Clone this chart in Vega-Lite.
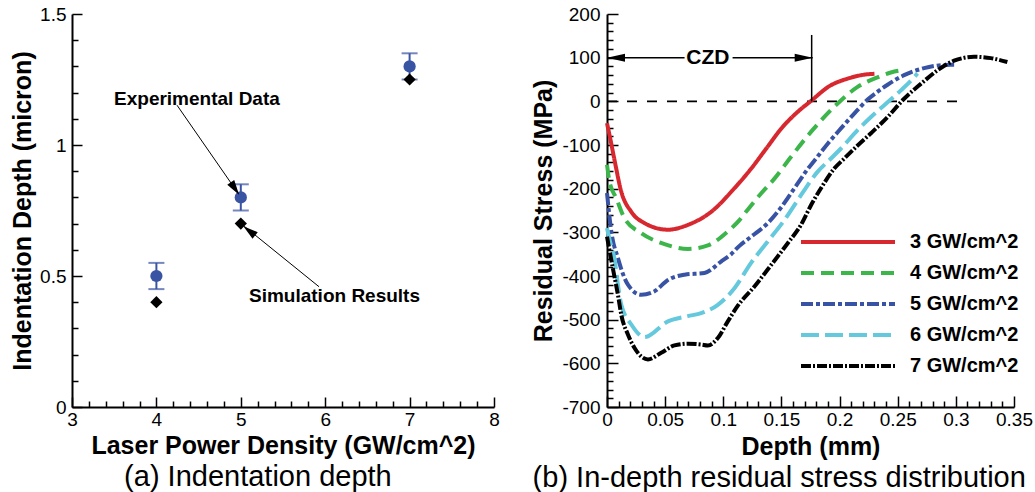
{
  "$schema": "https://vega.github.io/schema/vega-lite/v6.json",
  "background": "white",
  "padding": {"left": 10, "top": 5, "right": 5, "bottom": 0},
  "spacing": 31,
  "config": {
    "font": "Liberation Sans",
    "view": {"stroke": null},
    "axis": {
      "grid": false,
      "domainColor": "black",
      "domainWidth": 2,
      "tickColor": "black",
      "tickWidth": 1.5,
      "tickCount": 200,
      "labelColor": "black",
      "labelFont": "Liberation Sans",
      "labelFontSize": 19,
      "labelFlush": false,
      "labelOverlap": false,
      "labelBound": false,
      "titleColor": "black",
      "titleFont": "Liberation Sans",
      "titleFontSize": 25,
      "titleFontWeight": "bold"
    }
  },
  "hconcat": [
    {
      "width": 422,
      "height": 393,
      "title": {"text": "(a) Indentation depth", "orient": "bottom", "anchor": "middle", "frame": "bounds", "fontSize": 29, "fontWeight": "normal", "font": "Liberation Sans", "color": "black", "offset": 5, "dx": 3},
      "layer": [
        {
          "data": {"values": [
            {"x": 4, "lo": 0.45, "hi": 0.55},
            {"x": 5, "lo": 0.75, "hi": 0.85},
            {"x": 7, "lo": 1.25, "hi": 1.35}
          ]},
          "mark": {"type": "rule", "color": "#3a54a4", "strokeWidth": 2},
          "encoding": {
            "x": {"field": "x", "type": "quantitative", "title": "Laser Power Density (GW/cm^2)",
              "scale": {"domain": [3, 8], "nice": false, "zero": false},
              "axis": {
                "values": [3,3.2,3.4,3.6,3.8,4,4.2,4.4,4.6,4.8,5,5.2,5.4,5.6,5.8,6,6.2,6.4,6.6,6.8,7,7.2,7.4,7.6,7.8,8],
                "tickCount": 200,
                "labelExpr": "abs(datum.value - round(datum.value)) < 0.001 ? '' + datum.value : ''",
                "tickSize": {"condition": {"test": "abs(datum.value - round(datum.value)) < 0.001", "value": -10}, "value": -6},
                "labelOverlap": false,
                "labelPadding": 13,
                "titlePadding": 0
              }},
            "y": {"field": "lo", "type": "quantitative", "title": "Indentation Depth (micron)",
              "scale": {"domain": [0, 1.5], "nice": false, "zero": false},
              "axis": {
                "values": [0,0.1,0.2,0.3,0.4,0.5,0.6,0.7,0.8,0.9,1,1.1,1.2,1.3,1.4,1.5],
                "tickCount": 200,
                "labelExpr": "abs(datum.value*2 - round(datum.value*2)) < 0.001 ? '' + datum.value : ''",
                "tickSize": {"condition": {"test": "abs(datum.value*2 - round(datum.value*2)) < 0.001", "value": -10}, "value": -6},
                "labelOverlap": false,
                "labelPadding": 16,
                "titlePadding": 4
              }},
            "y2": {"field": "hi"}
          }
        },
        {
          "data": {"values": [
            {"x": 4, "lo": 0.45, "hi": 0.55},
            {"x": 5, "lo": 0.75, "hi": 0.85},
            {"x": 7, "lo": 1.25, "hi": 1.35}
          ]},
          "mark": {"type": "tick", "orient": "horizontal", "color": "#3a54a4", "size": 16, "thickness": 2},
          "encoding": {
            "x": {"field": "x", "type": "quantitative", "title": "Laser Power Density (GW/cm^2)"},
            "y": {"field": "lo", "type": "quantitative", "title": "Indentation Depth (micron)"}
          }
        },
        {
          "data": {"values": [
            {"x": 4, "lo": 0.45, "hi": 0.55},
            {"x": 5, "lo": 0.75, "hi": 0.85},
            {"x": 7, "lo": 1.25, "hi": 1.35}
          ]},
          "mark": {"type": "tick", "orient": "horizontal", "color": "#3a54a4", "size": 16, "thickness": 2},
          "encoding": {
            "x": {"field": "x", "type": "quantitative", "title": "Laser Power Density (GW/cm^2)"},
            "y": {"field": "hi", "type": "quantitative", "title": "Indentation Depth (micron)"}
          }
        },
        {
          "data": {"values": [
            {"x": 4, "y": 0.5},
            {"x": 5, "y": 0.8},
            {"x": 7, "y": 1.3}
          ]},
          "mark": {"type": "point", "shape": "circle", "filled": true, "color": "#3a54a4", "opacity": 1, "size": 150},
          "encoding": {
            "x": {"field": "x", "type": "quantitative", "title": "Laser Power Density (GW/cm^2)"},
            "y": {"field": "y", "type": "quantitative", "title": "Indentation Depth (micron)"}
          }
        },
        {
          "data": {"values": [
            {"x": 4, "y": 0.4},
            {"x": 5, "y": 0.7},
            {"x": 7, "y": 1.25}
          ]},
          "mark": {"type": "point", "shape": "diamond", "filled": true, "color": "black", "opacity": 1, "size": 150},
          "encoding": {
            "x": {"field": "x", "type": "quantitative", "title": "Laser Power Density (GW/cm^2)"},
            "y": {"field": "y", "type": "quantitative", "title": "Indentation Depth (micron)"}
          }
        },
        {
          "data": {"values": [
            {"x": 4.244, "y": 1.152, "x2": 4.97, "y2": 0.815},
            {"x": 5.927, "y": 0.459, "x2": 5.04, "y2": 0.69}
          ]},
          "mark": {"type": "rule", "color": "black", "strokeWidth": 1},
          "encoding": {
            "x": {"field": "x", "type": "quantitative", "title": "Laser Power Density (GW/cm^2)"},
            "y": {"field": "y", "type": "quantitative", "title": "Indentation Depth (micron)"},
            "x2": {"field": "x2"},
            "y2": {"field": "y2"}
          }
        },
        {
          "data": {"values": [{"x": 4.98, "y": 0.81}]},
          "mark": {"type": "point", "shape": "M0,0L-1,-0.28L-1,0.28Z", "filled": true, "color": "black", "opacity": 1, "size": 900, "angle": 56},
          "encoding": {
            "x": {"field": "x", "type": "quantitative", "title": "Laser Power Density (GW/cm^2)"},
            "y": {"field": "y", "type": "quantitative", "title": "Indentation Depth (micron)"}
          }
        },
        {
          "data": {"values": [{"x": 5.03, "y": 0.69}]},
          "mark": {"type": "point", "shape": "M0,0L-1,-0.28L-1,0.28Z", "filled": true, "color": "black", "opacity": 1, "size": 900, "angle": 218},
          "encoding": {
            "x": {"field": "x", "type": "quantitative", "title": "Laser Power Density (GW/cm^2)"},
            "y": {"field": "y", "type": "quantitative", "title": "Indentation Depth (micron)"}
          }
        },
        {
          "data": {"values": [
            {"x": 3.498, "y": 1.175, "label": "Experimental Data"},
            {"x": 5.097, "y": 0.425, "label": "Simulation Results"}
          ]},
          "mark": {"type": "text", "align": "left", "baseline": "middle", "font": "Liberation Sans", "fontSize": 19, "fontWeight": "bold", "color": "black"},
          "encoding": {
            "x": {"field": "x", "type": "quantitative", "title": "Laser Power Density (GW/cm^2)"},
            "y": {"field": "y", "type": "quantitative", "title": "Indentation Depth (micron)"},
            "text": {"field": "label"}
          }
        }
      ]
    },
    {
      "width": 407,
      "height": 393,
      "title": {"text": "(b) In-depth residual stress distribution", "orient": "bottom", "anchor": "middle", "frame": "bounds", "fontSize": 29, "fontWeight": "normal", "font": "Liberation Sans", "color": "black", "offset": 5, "dx": -3},
      "layer": [
        {
          "data": {"values": [{"d": 0, "d2": 0.302, "s": 0}]},
          "mark": {"type": "rule", "color": "black", "strokeWidth": 1.7, "strokeDash": [10, 10]},
          "encoding": {
            "x": {"field": "d", "type": "quantitative", "title": "Depth (mm)",
              "scale": {"domain": [0, 0.35], "nice": false, "zero": false},
              "axis": {
                "values": [0,0.01,0.02,0.03,0.04,0.05,0.06,0.07,0.08,0.09,0.1,0.11,0.12,0.13,0.14,0.15,0.16,0.17,0.18,0.19,0.2,0.21,0.22,0.23,0.24,0.25,0.26,0.27,0.28,0.29,0.3,0.31,0.32,0.33,0.34,0.35],
                "tickCount": 200,
                "labelExpr": "abs(datum.value*20 - round(datum.value*20)) < 0.001 ? '' + datum.value : ''",
                "tickSize": {"condition": {"test": "abs(datum.value*20 - round(datum.value*20)) < 0.001", "value": -11}, "value": -6},
                "labelOverlap": false,
                "labelPadding": 14,
                "titlePadding": 0
              }},
            "y": {"field": "s", "type": "quantitative", "title": "Residual Stress (MPa)",
              "scale": {"domain": [-700, 200], "nice": false, "zero": false},
              "axis": {
                "values": [-700,-680,-660,-640,-620,-600,-580,-560,-540,-520,-500,-480,-460,-440,-420,-400,-380,-360,-340,-320,-300,-280,-260,-240,-220,-200,-180,-160,-140,-120,-100,-80,-60,-40,-20,0,20,40,60,80,100,120,140,160,180,200],
                "tickCount": 200,
                "labelExpr": "datum.value % 100 == 0 ? '' + datum.value : ''",
                "tickSize": {"condition": {"test": "datum.value % 100 == 0", "value": -11}, "value": -6},
                "labelOverlap": false,
                "labelPadding": 18,
                "titlePadding": 5
              }},
            "x2": {"field": "d2"}
          }
        },
        {
          "data": {"values": [
            {"series": "3 GW/cm^2", "d": 0, "s": -50},
            {"series": "3 GW/cm^2", "d": 0.003, "s": -88},
            {"series": "3 GW/cm^2", "d": 0.0065, "s": -135},
            {"series": "3 GW/cm^2", "d": 0.0123, "s": -207},
            {"series": "3 GW/cm^2", "d": 0.0209, "s": -253},
            {"series": "3 GW/cm^2", "d": 0.0323, "s": -279},
            {"series": "3 GW/cm^2", "d": 0.0524, "s": -294},
            {"series": "3 GW/cm^2", "d": 0.0695, "s": -283},
            {"series": "3 GW/cm^2", "d": 0.0896, "s": -253},
            {"series": "3 GW/cm^2", "d": 0.1096, "s": -199},
            {"series": "3 GW/cm^2", "d": 0.124, "s": -154},
            {"series": "3 GW/cm^2", "d": 0.137, "s": -108},
            {"series": "3 GW/cm^2", "d": 0.15, "s": -62},
            {"series": "3 GW/cm^2", "d": 0.164, "s": -24},
            {"series": "3 GW/cm^2", "d": 0.175, "s": 0},
            {"series": "3 GW/cm^2", "d": 0.192, "s": 36},
            {"series": "3 GW/cm^2", "d": 0.207, "s": 52},
            {"series": "3 GW/cm^2", "d": 0.221, "s": 61},
            {"series": "3 GW/cm^2", "d": 0.23, "s": 63},

            {"series": "4 GW/cm^2", "d": 0, "s": -145},
            {"series": "4 GW/cm^2", "d": 0.0022, "s": -184},
            {"series": "4 GW/cm^2", "d": 0.008, "s": -222},
            {"series": "4 GW/cm^2", "d": 0.0151, "s": -268},
            {"series": "4 GW/cm^2", "d": 0.0295, "s": -302},
            {"series": "4 GW/cm^2", "d": 0.0495, "s": -327},
            {"series": "4 GW/cm^2", "d": 0.0695, "s": -338},
            {"series": "4 GW/cm^2", "d": 0.0867, "s": -330},
            {"series": "4 GW/cm^2", "d": 0.1039, "s": -298},
            {"series": "4 GW/cm^2", "d": 0.1139, "s": -272},
            {"series": "4 GW/cm^2", "d": 0.121, "s": -248},
            {"series": "4 GW/cm^2", "d": 0.1325, "s": -211},
            {"series": "4 GW/cm^2", "d": 0.144, "s": -177},
            {"series": "4 GW/cm^2", "d": 0.158, "s": -128},
            {"series": "4 GW/cm^2", "d": 0.1754, "s": -70},
            {"series": "4 GW/cm^2", "d": 0.1983, "s": -5},
            {"series": "4 GW/cm^2", "d": 0.2155, "s": 33},
            {"series": "4 GW/cm^2", "d": 0.2327, "s": 55},
            {"series": "4 GW/cm^2", "d": 0.2441, "s": 66},
            {"series": "4 GW/cm^2", "d": 0.255, "s": 72},

            {"series": "5 GW/cm^2", "d": 0, "s": -210},
            {"series": "5 GW/cm^2", "d": 0.0037, "s": -298},
            {"series": "5 GW/cm^2", "d": 0.0094, "s": -359},
            {"series": "5 GW/cm^2", "d": 0.018, "s": -420},
            {"series": "5 GW/cm^2", "d": 0.0295, "s": -443},
            {"series": "5 GW/cm^2", "d": 0.0409, "s": -435},
            {"series": "5 GW/cm^2", "d": 0.0524, "s": -409},
            {"series": "5 GW/cm^2", "d": 0.0667, "s": -397},
            {"series": "5 GW/cm^2", "d": 0.0838, "s": -393},
            {"series": "5 GW/cm^2", "d": 0.0981, "s": -367},
            {"series": "5 GW/cm^2", "d": 0.1067, "s": -350},
            {"series": "5 GW/cm^2", "d": 0.1139, "s": -331},
            {"series": "5 GW/cm^2", "d": 0.1239, "s": -310},
            {"series": "5 GW/cm^2", "d": 0.1382, "s": -279},
            {"series": "5 GW/cm^2", "d": 0.1497, "s": -243},
            {"series": "5 GW/cm^2", "d": 0.164, "s": -188},
            {"series": "5 GW/cm^2", "d": 0.1726, "s": -155},
            {"series": "5 GW/cm^2", "d": 0.1783, "s": -136},
            {"series": "5 GW/cm^2", "d": 0.1898, "s": -97},
            {"series": "5 GW/cm^2", "d": 0.2012, "s": -62},
            {"series": "5 GW/cm^2", "d": 0.2126, "s": -28},
            {"series": "5 GW/cm^2", "d": 0.2241, "s": 4},
            {"series": "5 GW/cm^2", "d": 0.2327, "s": 22},
            {"series": "5 GW/cm^2", "d": 0.2413, "s": 38},
            {"series": "5 GW/cm^2", "d": 0.2555, "s": 60},
            {"series": "5 GW/cm^2", "d": 0.2727, "s": 76},
            {"series": "5 GW/cm^2", "d": 0.2956, "s": 84},
            {"series": "5 GW/cm^2", "d": 0.2985, "s": 84},

            {"series": "6 GW/cm^2", "d": 0, "s": -290},
            {"series": "6 GW/cm^2", "d": 0.0022, "s": -317},
            {"series": "6 GW/cm^2", "d": 0.0065, "s": -362},
            {"series": "6 GW/cm^2", "d": 0.0094, "s": -420},
            {"series": "6 GW/cm^2", "d": 0.0123, "s": -466},
            {"series": "6 GW/cm^2", "d": 0.0209, "s": -511},
            {"series": "6 GW/cm^2", "d": 0.0323, "s": -540},
            {"series": "6 GW/cm^2", "d": 0.0524, "s": -504},
            {"series": "6 GW/cm^2", "d": 0.0695, "s": -492},
            {"series": "6 GW/cm^2", "d": 0.081, "s": -485},
            {"series": "6 GW/cm^2", "d": 0.0953, "s": -466},
            {"series": "6 GW/cm^2", "d": 0.1096, "s": -428},
            {"series": "6 GW/cm^2", "d": 0.1239, "s": -370},
            {"series": "6 GW/cm^2", "d": 0.1382, "s": -321},
            {"series": "6 GW/cm^2", "d": 0.1525, "s": -272},
            {"series": "6 GW/cm^2", "d": 0.1668, "s": -215},
            {"series": "6 GW/cm^2", "d": 0.1812, "s": -161},
            {"series": "6 GW/cm^2", "d": 0.1926, "s": -131},
            {"series": "6 GW/cm^2", "d": 0.2012, "s": -108},
            {"series": "6 GW/cm^2", "d": 0.2155, "s": -66},
            {"series": "6 GW/cm^2", "d": 0.227, "s": -36},
            {"series": "6 GW/cm^2", "d": 0.2384, "s": -9},
            {"series": "6 GW/cm^2", "d": 0.2527, "s": 25},
            {"series": "6 GW/cm^2", "d": 0.2641, "s": 55},
            {"series": "6 GW/cm^2", "d": 0.267, "s": 64},

            {"series": "7 GW/cm^2", "d": 0, "s": -310},
            {"series": "7 GW/cm^2", "d": 0.005, "s": -382},
            {"series": "7 GW/cm^2", "d": 0.0094, "s": -443},
            {"series": "7 GW/cm^2", "d": 0.0123, "s": -489},
            {"series": "7 GW/cm^2", "d": 0.018, "s": -534},
            {"series": "7 GW/cm^2", "d": 0.0237, "s": -565},
            {"series": "7 GW/cm^2", "d": 0.0352, "s": -591},
            {"series": "7 GW/cm^2", "d": 0.0466, "s": -576},
            {"series": "7 GW/cm^2", "d": 0.058, "s": -559},
            {"series": "7 GW/cm^2", "d": 0.0695, "s": -555},
            {"series": "7 GW/cm^2", "d": 0.081, "s": -557},
            {"series": "7 GW/cm^2", "d": 0.0867, "s": -559},
            {"series": "7 GW/cm^2", "d": 0.0953, "s": -542},
            {"series": "7 GW/cm^2", "d": 0.1039, "s": -504},
            {"series": "7 GW/cm^2", "d": 0.1125, "s": -468},
            {"series": "7 GW/cm^2", "d": 0.1268, "s": -424},
            {"series": "7 GW/cm^2", "d": 0.1411, "s": -375},
            {"series": "7 GW/cm^2", "d": 0.1554, "s": -325},
            {"series": "7 GW/cm^2", "d": 0.1668, "s": -283},
            {"series": "7 GW/cm^2", "d": 0.1754, "s": -238},
            {"series": "7 GW/cm^2", "d": 0.184, "s": -199},
            {"series": "7 GW/cm^2", "d": 0.1954, "s": -154},
            {"series": "7 GW/cm^2", "d": 0.204, "s": -131},
            {"series": "7 GW/cm^2", "d": 0.2155, "s": -101},
            {"series": "7 GW/cm^2", "d": 0.227, "s": -73},
            {"series": "7 GW/cm^2", "d": 0.2413, "s": -36},
            {"series": "7 GW/cm^2", "d": 0.2555, "s": 6},
            {"series": "7 GW/cm^2", "d": 0.2699, "s": 40},
            {"series": "7 GW/cm^2", "d": 0.2842, "s": 71},
            {"series": "7 GW/cm^2", "d": 0.2985, "s": 93},
            {"series": "7 GW/cm^2", "d": 0.3156, "s": 102},
            {"series": "7 GW/cm^2", "d": 0.33, "s": 99},
            {"series": "7 GW/cm^2", "d": 0.3443, "s": 90}
          ]},
          "mark": {"type": "line", "strokeWidth": 4, "interpolate": "monotone"},
          "encoding": {
            "x": {"field": "d", "type": "quantitative", "title": "Depth (mm)"},
            "y": {"field": "s", "type": "quantitative", "title": "Residual Stress (MPa)"},
            "color": {"field": "series", "type": "nominal",
              "scale": {"domain": ["3 GW/cm^2", "4 GW/cm^2", "5 GW/cm^2", "6 GW/cm^2", "7 GW/cm^2"],
                        "range": ["#d7282f", "#3cb54a", "#3953a4", "#64c9dc", "#000000"]},
              "legend": {"orient": "none", "legendX": 727, "legendY": 216, "title": null, "padding": 0,
                "symbolType": "stroke", "symbolSize": 8836, "symbolStrokeWidth": 4,
                "labelFont": "Liberation Sans", "labelFontSize": 20, "labelFontWeight": "bold", "labelColor": "black",
                "labelOffset": 13, "rowPadding": 7, "clipHeight": 24}},
            "strokeDash": {"field": "series", "type": "nominal",
              "scale": {"domain": ["3 GW/cm^2", "4 GW/cm^2", "5 GW/cm^2", "6 GW/cm^2", "7 GW/cm^2"],
                        "range": [[1, 0], [13, 7], [12, 3, 4, 3], [18, 6], [10, 2, 2, 2]]}}
          }
        },
        {
          "data": {"values": [
            {"d": 0, "d2": 0.0667, "s": 100},
            {"d": 0.108, "d2": 0.1769, "s": 100}
          ]},
          "mark": {"type": "rule", "color": "black", "strokeWidth": 1.5},
          "encoding": {
            "x": {"field": "d", "type": "quantitative", "title": "Depth (mm)"},
            "x2": {"field": "d2"},
            "y": {"field": "s", "type": "quantitative", "title": "Residual Stress (MPa)"}
          }
        },
        {
          "data": {"values": [{"d": 0.176, "s": 0, "s2": 152}]},
          "mark": {"type": "rule", "color": "black", "strokeWidth": 1.5},
          "encoding": {
            "x": {"field": "d", "type": "quantitative", "title": "Depth (mm)"},
            "y": {"field": "s", "type": "quantitative", "title": "Residual Stress (MPa)"},
            "y2": {"field": "s2"}
          }
        },
        {
          "data": {"values": [{"d": 0.1769, "s": 100}]},
          "mark": {"type": "point", "shape": "M0,0L-1,-0.22L-1,0.22Z", "filled": true, "color": "black", "opacity": 1, "size": 1296},
          "encoding": {
            "x": {"field": "d", "type": "quantitative", "title": "Depth (mm)"},
            "y": {"field": "s", "type": "quantitative", "title": "Residual Stress (MPa)"}
          }
        },
        {
          "data": {"values": [{"d": 0, "s": 100}]},
          "mark": {"type": "point", "shape": "M0,0L1,-0.22L1,0.22Z", "filled": true, "color": "black", "opacity": 1, "size": 1296},
          "encoding": {
            "x": {"field": "d", "type": "quantitative", "title": "Depth (mm)"},
            "y": {"field": "s", "type": "quantitative", "title": "Residual Stress (MPa)"}
          }
        },
        {
          "data": {"values": [{"d": 0.0868, "s": 100, "label": "CZD"}]},
          "mark": {"type": "text", "align": "center", "baseline": "middle", "font": "Liberation Sans", "fontSize": 21, "fontWeight": "bold", "color": "black"},
          "encoding": {
            "x": {"field": "d", "type": "quantitative", "title": "Depth (mm)"},
            "y": {"field": "s", "type": "quantitative", "title": "Residual Stress (MPa)"},
            "text": {"field": "label"}
          }
        }
      ]
    }
  ]
}
